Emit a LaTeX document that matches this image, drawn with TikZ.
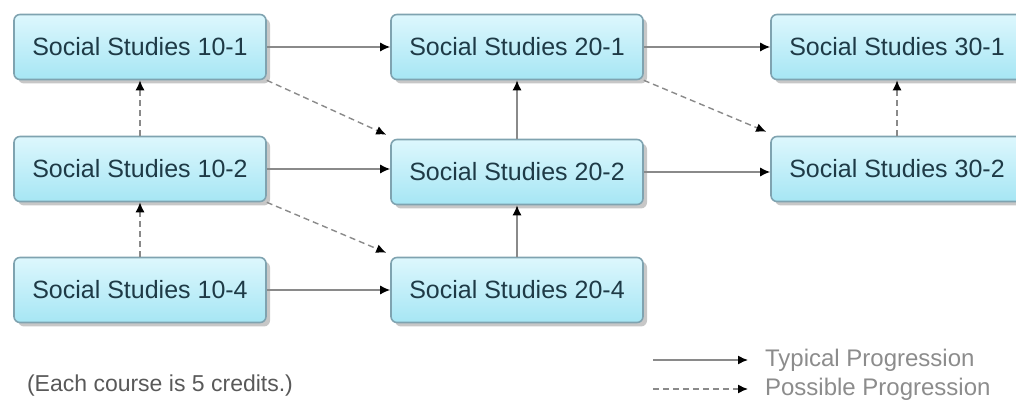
\documentclass[tikz,border=0pt]{standalone}
\usepackage{fontspec}
\setmainfont{Liberation Sans}
\usetikzlibrary{arrows.meta,shadows}

\definecolor{boxtop}{HTML}{DDF7FD}
\definecolor{boxbottom}{HTML}{A6E6F4}
\definecolor{boxline}{HTML}{7FA3B0}
\definecolor{boxtext}{HTML}{1E3A46}
\definecolor{linkgray}{HTML}{8A8A8A}
\definecolor{keytext}{HTML}{8C8C8C}

\tikzset{
  course/.style={draw=boxline, line width=0.8pt, rounded corners=3pt,
    top color=boxtop, bottom color=boxbottom,
    minimum width=126pt, minimum height=32.5pt,
    text=boxtext, font=\fontsize{12.5}{14}\selectfont,
    drop shadow={shadow xshift=2pt, shadow yshift=-2pt, fill=gray!55, opacity=0.8}},
  typical/.style={draw=linkgray, line width=0.7pt, -{Latex[black,length=5pt,width=4.5pt]}},
  possible/.style={typical, dash pattern=on 3pt off 2pt},
}

\begin{document}
\begin{tikzpicture}[x=0.5pt,y=-0.5pt]
\useasboundingbox (0,0) rectangle (1016,400);

% courses
\node[course] (ss101) at (140,47) {Social Studies 10-1};
\node[course] (ss102) at (140,169) {Social Studies 10-2};
\node[course] (ss104) at (140,290) {Social Studies 10-4};
\node[course] (ss201) at (517,47) {Social Studies 20-1};
\node[course] (ss202) at (517,172) {Social Studies 20-2};
\node[course] (ss204) at (517,290) {Social Studies 20-4};
\node[course] (ss301) at (897,47) {Social Studies 30-1};
\node[course] (ss302) at (897,169) {Social Studies 30-2};

% typical progression
\draw[typical] (ss101.east) -- (ss201.west);
\draw[typical] (ss201.east) -- (ss301.west);
\draw[typical] (ss102.east) -- (ss202.west |- ss102.east);
\draw[typical] (ss202.east) -- (ss302.west |- ss202.east);
\draw[typical] (ss104.east) -- (ss204.west);
\draw[typical] (ss202.north) -- (ss201.south);
\draw[typical] (ss204.north) -- (ss202.south);

% possible progression
\draw[possible] (ss102.north) -- (ss101.south);
\draw[possible] (ss104.north) -- (ss102.south);
\draw[possible] (ss302.north) -- (ss301.south);
\draw[possible] (ss101.south east) -- ([xshift=-2pt,yshift=2pt]ss202.north west);
\draw[possible] (ss201.south east) -- ([xshift=-2pt,yshift=2pt]ss302.north west);
\draw[possible] (ss102.south east) -- ([xshift=-2pt,yshift=2pt]ss204.north west);

% key
\node[anchor=west, text=black!65, font=\fontsize{11.5}{13}\selectfont] (note) at (20,386) {(Each course is 5 credits.)};
\coordinate (ka) at (653,360);
\coordinate (kb) at (748,360);
\coordinate (kc) at (653,389);
\coordinate (kd) at (748,389);
\draw[typical] (ka) -- (kb);
\draw[possible] (kc) -- (kd);
\node[anchor=west, text=keytext, font=\fontsize{12}{13}\selectfont] (ktyp) at (758,360) {Typical Progression};
\node[anchor=west, text=keytext, font=\fontsize{12}{13}\selectfont] (kpos) at (758,389) {Possible Progression};
\end{tikzpicture}
\end{document}
